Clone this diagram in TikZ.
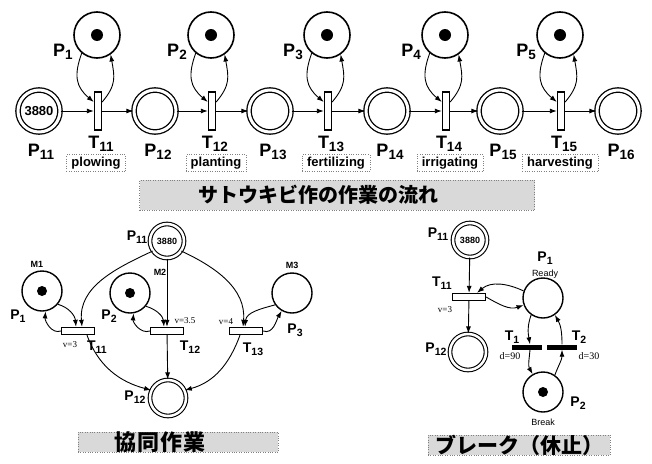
\documentclass[tikz,border=0pt]{standalone}
\usepackage{fontspec}
\setmainfont{Liberation Sans}
\newfontfamily\seriffont{Liberation Serif}
\newfontfamily\cjk{Noto Sans CJK JP}
\usetikzlibrary{arrows.meta,positioning}
\newcommand\lo[1]{\raisebox{-0.35ex}{\scalebox{0.75}{#1}}}

\tikzset{
  place/.style={circle, draw, line width=1.4pt, minimum size=40pt, inner sep=0pt},
  token/.style={path picture={\fill (path picture bounding box.center) circle (#1);}},
  token/.default=5pt,
  dplace/.style={circle, draw, double, line width=1.1pt, double distance=2.5pt, minimum size=34pt, inner sep=0pt, font=\bfseries\fontsize{9}{9}\selectfont},
  vtrans/.style={rectangle, draw, line width=1.4pt, minimum width=7pt, minimum height=38pt, inner sep=0pt},
  htrans/.style={rectangle, draw, line width=1.3pt, minimum width=33pt, minimum height=7pt, inner sep=0pt},
  bar/.style={rectangle, fill, minimum width=30pt, minimum height=5pt, inner sep=0pt},
  conn/.style={->, line width=0.9pt},
  biglbl/.style={font=\bfseries\fontsize{18}{18}\selectfont, inner sep=0pt},
  lbl/.style={font=\bfseries\fontsize{14}{14}\selectfont, inner sep=0pt},
  small/.style={font=\bfseries\fontsize{9}{9}\selectfont, inner sep=0pt},
  note/.style={font=\seriffont\fontsize{9}{9}\selectfont, inner sep=0pt},
  task/.style={draw=gray, dotted, font=\bfseries\fontsize{13}{13}\selectfont, inner xsep=5pt, inner ysep=0pt, minimum height=17pt},
  titlebox/.style={draw=gray, dotted, fill=gray!30, inner sep=0pt},
  titletext/.style={font=\cjk\bfseries\fontsize{20}{20}\selectfont, inner sep=0pt},
}

\begin{document}
\begin{tikzpicture}[x=1pt, y=1pt, >={Latex[length=7pt,width=5pt]}]
\useasboundingbox (0,0) rectangle (652,-463);

% sugar cane work flow
\node[dplace, minimum size=42pt, line width=1.3pt, double distance=3pt, font=\bfseries\fontsize{13}{13}\selectfont] (aP11) at (39,-111) {3880};
\node[biglbl] at (41,-152) {P\lo{11}};
\foreach \j/\x in {2/155,3/270,4/387,5/500,6/618}{
  \node[dplace, minimum size=42pt, line width=1.3pt, double distance=3pt] (aP1\j) at (\x,-111) {};
  \node[biglbl] at (\x+3,-152) {P\lo{1\j}};
}
\foreach \i/\x in {1/98,2/212,3/328,4/446,5/561}{
  \node[vtrans] (aT1\i) at (\x,-111) {};
  \node[place, token=6pt, minimum size=46pt, line width=1.6pt] (aP\i) at (\x-1,-35) {};
  \node[biglbl] at (\x-35,-52) {P\lo{\i}};
  \node[biglbl] at (\x+3,-144) {T\lo{1\i}};
  \draw[conn] (aP\i.230) to[out=250,in=140,looseness=1.2] (aT1\i.115);
  \draw[conn] (aT1\i.65) to[out=50,in=280,looseness=1.2] (aP\i.305);
}
\foreach \i [evaluate=\i as \n using int(\i+1)] in {1,...,5}{
  \draw[conn] (aP1\i) -- (aT1\i);
  \draw[conn] (aT1\i) -- (aP1\n);
}
\foreach \x/\w in {96/plowing,216/planting,336/fertilizing,450/irrigating,560/harvesting}
  \node[task] at (\x,-163) {\w};
\node[titlebox, minimum width=395pt, minimum height=30pt] (tbox1) at (337,-195) {};
\node[titletext] at ([xshift=-19pt]tbox1.center) {サトウキビ作の作業の流れ};

% cooperative work
\node[dplace] (bP11) at (167,-241) {3880};
\node[lbl] at (137,-237) {P\lo{11}};
\node[place, token] (bP1) at (42,-291) {};
\node[place, token] (bP2) at (130,-293) {};
\node[place] (bP3) at (292,-293) {};
\node[small] at (37,-264) {M1};
\node[small] at (160,-272) {M2};
\node[small] at (292,-265) {M3};
\node[lbl] at (18,-316) {P\lo{1}};
\node[lbl] at (109,-316) {P\lo{2}};
\node[lbl] at (295,-330) {P\lo{3}};
\node[htrans] (bT11) at (78,-331) {};
\node[htrans] (bT12) at (167,-331) {};
\node[htrans] (bT13) at (246,-331) {};
\node[lbl] at (97,-347) {T\lo{11}};
\node[lbl] at (190,-347) {T\lo{12}};
\node[lbl] at (253,-349) {T\lo{13}};
\node[note] at (70,-345) {v=3};
\node[note] at (185,-321) {v=3.5};
\node[note] at (226,-322) {v=4};
\node[dplace, minimum size=36pt] (bP12) at (168,-398) {};
\node[lbl] at (135,-397) {P\lo{12}};
\draw[conn] (bP11.215) to[out=205,in=95] ([xshift=4pt]bT11.north);
\draw[conn] (bP11) -- (bT12);
\draw[conn] (bP11.325) to[out=-25,in=85] ([xshift=-3pt]bT13.north);
\draw[conn] (bP1.320) to[out=-15,in=95] ([xshift=-2pt]bT11.north);
\draw[conn] (bT11.west) to[out=200,in=-95] (bP1.-80);
\draw[conn] (bP2.320) to[out=-15,in=95] ([xshift=-3pt]bT12.north);
\draw[conn] (bT12.west) to[out=200,in=-95] (bP2.-80);
\draw[conn] (bP3.215) to[out=195,in=85] ([xshift=-1pt]bT13.north);
\draw[conn] (bT13.east) to[out=-20,in=240] (bP3.240);
\draw[conn] ([xshift=9pt]bT11.south) to[out=-70,in=165] (bP12.155);
\draw[conn] (bT12) -- (bP12);
\draw[conn] ([xshift=-6pt]bT13.south) to[out=-110,in=15] (bP12.25);
\node[titlebox, minimum width=200pt, minimum height=20pt] (tbox2) at (178,-442) {};
\node[titletext, font=\cjk\bfseries\fontsize{22}{22}\selectfont\addfontfeature{LetterSpace=4}] at ([xshift=-18pt]tbox2.center) {協同作業};

% break
\node[dplace] (cP11) at (470,-240) {3880};
\node[lbl] at (438,-234) {P\lo{11}};
\node[htrans] (cT11) at (469,-297) {};
\node[lbl] at (442,-283) {T\lo{11}};
\node[note] at (445,-310) {v=3};
\node[dplace, minimum size=36pt] (cP12) at (468,-352) {};
\node[lbl] at (436,-349) {P\lo{12}};
\node[place] (cP1) at (543,-298) {};
\node[lbl] at (545,-258) {P\lo{1}};
\node[small, font=\fontsize{9}{9}\selectfont] at (545,-274) {Ready};
\node[place, token] (cP2) at (543,-392) {};
\node[lbl] at (578,-403) {P\lo{2}};
\node[small, font=\fontsize{9}{9}\selectfont] at (543,-422) {Break};
\node[bar] (cT1) at (527,-347) {};
\node[bar] (cT2) at (562,-347) {};
\node[lbl] at (512,-337) {T\lo{1}};
\node[lbl] at (579,-337) {T\lo{2}};
\node[note, font=\seriffont\fontsize{10}{10}\selectfont] at (510,-356) {d=90};
\node[note, font=\seriffont\fontsize{10}{10}\selectfont] at (589,-356) {d=30};
\draw[conn] (cP11) -- (cT11);
\draw[conn] (cT11) -- (cP12);
\draw[conn] (cP1.160) to[out=155,in=40] ([xshift=8pt]cT11.north);
\draw[conn] (cT11.east) to[out=-30,in=200] (cP1.200);
\draw[conn] (cP1.235) to[out=250,in=100] ([xshift=3pt]cT1.north);
\draw[conn] ([xshift=3pt]cT1.south) to[out=-95,in=120] (cP2.120);
\draw[conn] (cP2.55) to[out=70,in=-90] (cT2.south);
\draw[conn] (cT2.north) to[out=90,in=-60] (cP1.-55);
\node[titlebox, minimum width=182pt, minimum height=20pt] (tbox3) at (519,-445) {};
\node[titletext, font=\cjk\bfseries\fontsize{21}{21}\selectfont] at (tbox3.center) {ブレーク（休止）};
\end{tikzpicture}
\end{document}
